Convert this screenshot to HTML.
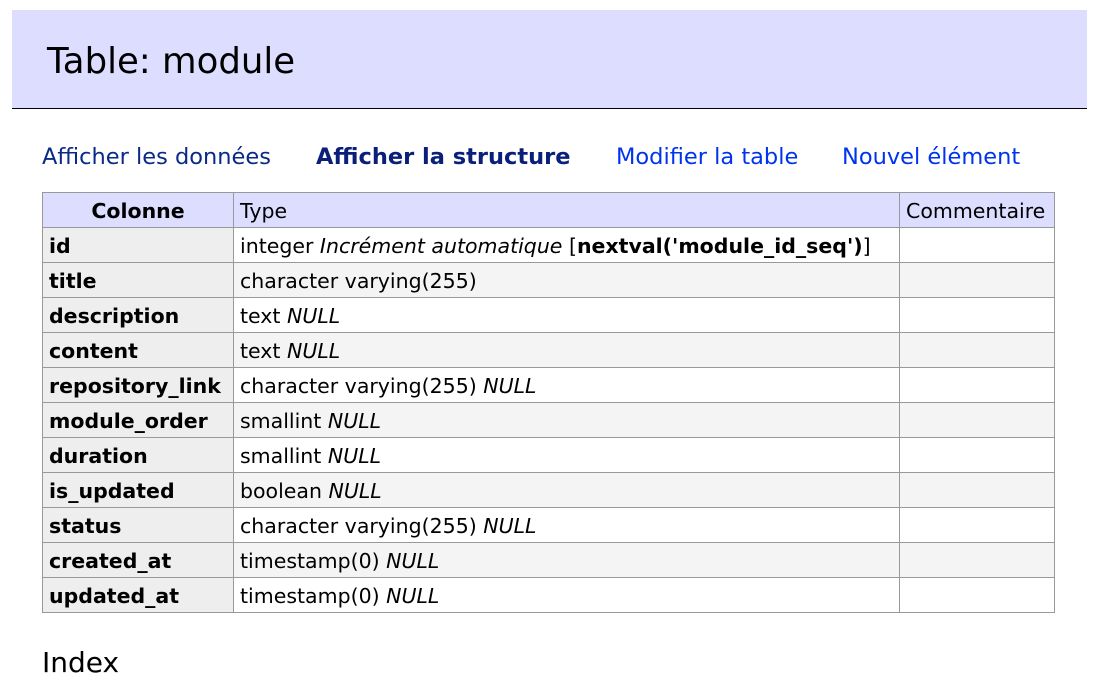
<!DOCTYPE html>
<html><head><meta charset="utf-8"><style>
html,body{margin:0;padding:0;background:#fff;width:1116px;height:678px;overflow:hidden}
body{font-family:"DejaVu Sans",Verdana,sans-serif;color:#000}
.hd{position:absolute;left:12px;top:10px;width:1075px;height:98px;background:#ddf;border-bottom:1px solid #000}
.hd h2{margin:0;position:absolute;left:35px;top:32px;font-size:35.5px;font-weight:normal;line-height:40px}
.links{position:absolute;top:144px;left:42px;font-size:22.5px;line-height:26px;white-space:nowrap}
.links span{position:absolute;top:0}
table{position:absolute;left:42px;top:192px;border-collapse:collapse;table-layout:fixed;width:1012px;font-size:20.5px;line-height:24px}
td,th{border:1px solid #999;height:33px;padding:1px 6px 0;white-space:nowrap;overflow:hidden;text-align:left;font-weight:normal}
thead th{background:#ddf}
thead th.c1{text-align:center;font-weight:bold}
tbody th{background:#eee;font-weight:bold}
tbody tr:nth-child(even) td{background:#f4f4f4}
.ix{position:absolute;left:42px;top:646px;font-size:28px;margin:0;font-weight:normal;line-height:34px}
</style></head><body>
<div class="hd"><h2>Table: module</h2></div>
<div class="links">
<span style="left:0;color:#0a2a8a">Afficher les données</span>
<span style="left:274px;color:#0a1f7a;font-weight:bold">Afficher la structure</span>
<span style="left:574px;color:#0033ee">Modifier la table</span>
<span style="left:800px;color:#0033ee">Nouvel élément</span>
</div>
<table>
<colgroup><col style="width:191px"><col style="width:666px"><col style="width:155px"></colgroup>
<thead><tr><th class="c1">Colonne</th><th>Type</th><th>Commentaire</th></tr></thead>
<tbody>
<tr><th>id</th><td>integer <i>Incrément automatique</i> [<b>nextval('module_id_seq')</b>]</td><td></td></tr>
<tr><th>title</th><td>character varying(255)</td><td></td></tr>
<tr><th>description</th><td>text <i>NULL</i></td><td></td></tr>
<tr><th>content</th><td>text <i>NULL</i></td><td></td></tr>
<tr><th>repository_link</th><td>character varying(255) <i>NULL</i></td><td></td></tr>
<tr><th>module_order</th><td>smallint <i>NULL</i></td><td></td></tr>
<tr><th>duration</th><td>smallint <i>NULL</i></td><td></td></tr>
<tr><th>is_updated</th><td>boolean <i>NULL</i></td><td></td></tr>
<tr><th>status</th><td>character varying(255) <i>NULL</i></td><td></td></tr>
<tr><th>created_at</th><td>timestamp(0) <i>NULL</i></td><td></td></tr>
<tr><th>updated_at</th><td>timestamp(0) <i>NULL</i></td><td></td></tr>
</tbody></table>
<h3 class="ix">Index</h3>
</body></html>
